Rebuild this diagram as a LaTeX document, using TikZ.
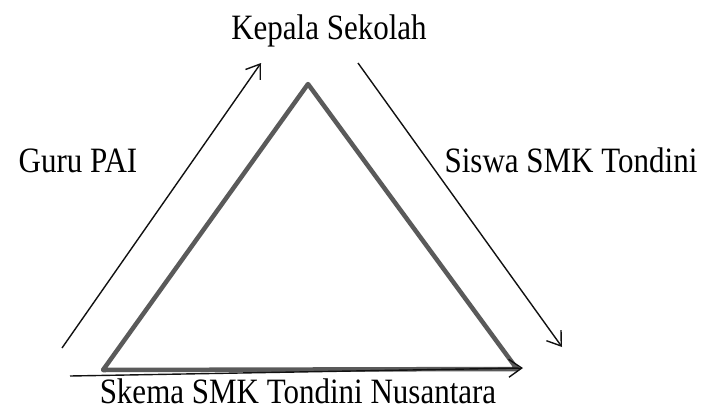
\documentclass[tikz,border=0pt]{standalone}
\usepackage{fontspec}
\setmainfont{Liberation Serif}
\usepackage{tikz}
\usetikzlibrary{arrows.meta,positioning}
\definecolor{skgray}{HTML}{5A5A5A}
\definecolor{skink}{HTML}{111111}
\newcommand{\tall}[1]{\scalebox{1}[1.15]{#1}}

\begin{document}
\begin{tikzpicture}[x=1pt,y=-1pt,font=\fontsize{31}{36}\selectfont,
  flow/.style={skink,line width=1.4pt,-{Straight Barb[length=13pt,width=18pt,line width=1.4pt]}},
  role/.style={inner sep=0pt,anchor=base,text=black}]
  \useasboundingbox (0,0) rectangle (712,410);
  % triangle corners
  \coordinate (top) at (308,84);
  \coordinate (bl) at (103,370);
  \coordinate (br) at (517,369);
  \draw[skgray,line width=4.5pt,line join=round] (top) -- (br) -- (bl) -- cycle;
  % arrow ends
  \coordinate (gtail) at (62,348);
  \coordinate (ghead) at (261,63);
  \coordinate (stail) at (358,63);
  \coordinate (shead) at (562,347);
  \coordinate (ktail) at (70,376);
  \coordinate (khead) at (523,368);
  \draw[flow] (gtail) -- (ghead);
  \draw[flow] (stail) -- (shead);
  \draw[flow] (ktail) -- (khead);
  % labels
  \node[role] (kepsek) at (329,39) {\tall{Kepala Sekolah}};
  \node[role] (guru) at (78,172) {\tall{Guru PAI}};
  \node[role] (siswa) at (571,172) {\tall{Siswa SMK Tondini}};
  \node[role] (skema) at (298,403) {\tall{Skema SMK Tondini Nusantara}};
\end{tikzpicture}
\end{document}
